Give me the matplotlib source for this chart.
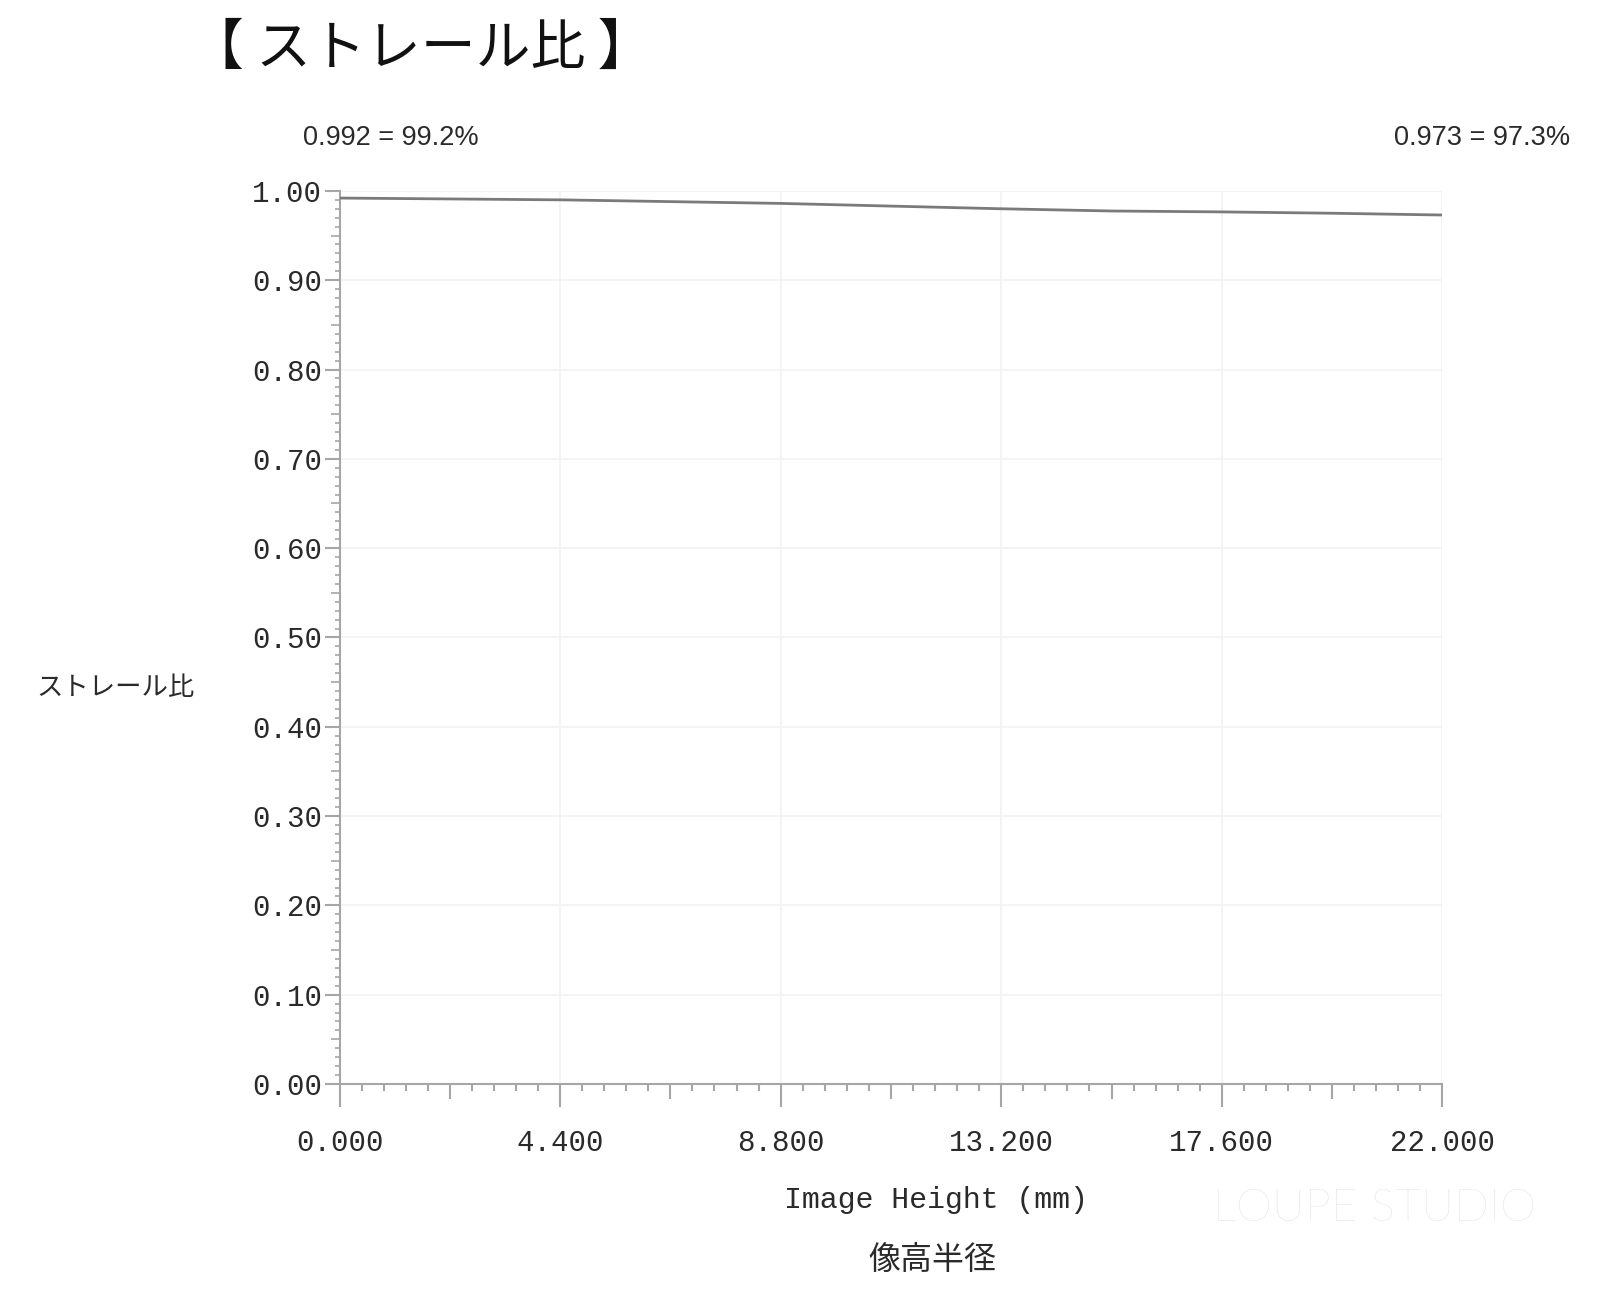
import numpy as np
import matplotlib
matplotlib.use('Agg')
import matplotlib.pyplot as plt
from matplotlib.ticker import FixedLocator

# ============================================================
#  データ
# ============================================================
image_height = [0.0, 2.2, 4.4, 6.6, 8.8, 11.0, 13.2, 15.4, 17.6, 19.8, 22.0]
strehl = [0.992, 0.991, 0.990, 0.988, 0.986, 0.983, 0.980, 0.9775, 0.9765, 0.975, 0.973]

x_major = [0.0, 4.4, 8.8, 13.2, 17.6, 22.0]
y_major = [0.0, 0.1, 0.2, 0.3, 0.4, 0.5, 0.6, 0.7, 0.8, 0.9, 1.0]

title_text = '【 ストレール比 】'
ylabel_text = 'ストレール比'
xlabel_text = 'Image Height (mm)'
xlabel_jp = '像高半径'
left_note = '0.992 = 99.2%'
right_note = '0.973 = 97.3%'

JP = ['Noto Sans CJK JP', 'DejaVu Sans']
MONO = 'Liberation Mono'
AXIS_COLOR = '#a6a6a6'
TEXT_COLOR = '#2a2a2a'

# ============================================================
#  描画
# ============================================================
fig = plt.figure(figsize=(16, 13.04), dpi=100)
ax = fig.add_axes([0.2122, 0.1687, 0.6893, 0.6849])

ax.plot(image_height, strehl, color='#7a7a7a', lw=2.0, zorder=3)

ax.set_xlim(0, 22.0)
ax.set_ylim(0, 1.0)

# グリッド
ax.set_xticks(x_major)
ax.set_yticks(y_major)
ax.grid(True, which='major', color='#f2f2f2', lw=1.2)
ax.set_axisbelow(True)

for s in ['top', 'right']:
    ax.spines[s].set_visible(False)
for s in ['left', 'bottom']:
    ax.spines[s].set_color(AXIS_COLOR)
    ax.spines[s].set_linewidth(1.5)

ax.set_xticklabels([f'{v:.3f}' for v in x_major], fontfamily=MONO, fontsize=21,
                   color=TEXT_COLOR)
ax.set_yticklabels([f'{v:.2f}' for v in y_major], fontfamily=MONO, fontsize=21,
                   color=TEXT_COLOR)

# 小目盛り
x_minor = [i * 0.44 for i in range(51) if i % 5 != 0]
y_minor = [i * 0.01 for i in range(101) if i % 5 != 0]
ax.xaxis.set_minor_locator(FixedLocator(x_minor))
ax.yaxis.set_minor_locator(FixedLocator(y_minor))

ax.tick_params(axis='x', which='major', length=16.5, width=1.5, color=AXIS_COLOR, pad=16)
ax.tick_params(axis='x', which='minor', length=5, width=1.5, color=AXIS_COLOR)
ax.tick_params(axis='y', which='major', length=10.5, width=1.5, color=AXIS_COLOR, pad=2)
ax.tick_params(axis='y', which='minor', length=3.5, width=1.2, color=AXIS_COLOR)

# 中間目盛り（少し長い）
x_mid = [2.2 + 4.4 * i for i in range(5)]
y_mid = [0.05 + 0.1 * i for i in range(10)]
sec_x = ax.secondary_xaxis('bottom')
sec_x.set_xticks(x_mid)
sec_x.set_xticklabels([])
sec_x.tick_params(length=10.5, width=1.5, color=AXIS_COLOR)
sec_x.spines['bottom'].set_visible(False)
sec_y = ax.secondary_yaxis('left')
sec_y.set_yticks(y_mid)
sec_y.set_yticklabels([])
sec_y.tick_params(length=6.5, width=1.2, color=AXIS_COLOR)
sec_y.spines['left'].set_visible(False)

# テキスト
fig.text(0.263, 0.962, title_text, family=JP, fontsize=39.5, ha='center', va='center',
         color='#111111')
fig.text(0.244, 0.894, left_note, family='Liberation Sans', fontsize=19.5,
         ha='center', va='center', color=TEXT_COLOR)
fig.text(0.926, 0.894, right_note, family='Liberation Sans', fontsize=19.5,
         ha='center', va='center', color=TEXT_COLOR)
fig.text(0.072, 0.473, ylabel_text, family=JP, fontsize=19, ha='center', va='center',
         color=TEXT_COLOR)
fig.text(0.585, 0.080, xlabel_text, family=MONO, fontsize=21.5, ha='center', va='center',
         color=TEXT_COLOR)
fig.text(0.583, 0.034, xlabel_jp, family=JP, fontsize=23, ha='center', va='center',
         color=TEXT_COLOR)

# ウォーターマーク
fig.text(0.859, 0.073, 'LOUPE STUDIO', family='Lato', fontweight='light', fontsize=33,
         ha='center', va='center', color='#e0e0e0')

fig.savefig('out.png', dpi=100, facecolor='white')
